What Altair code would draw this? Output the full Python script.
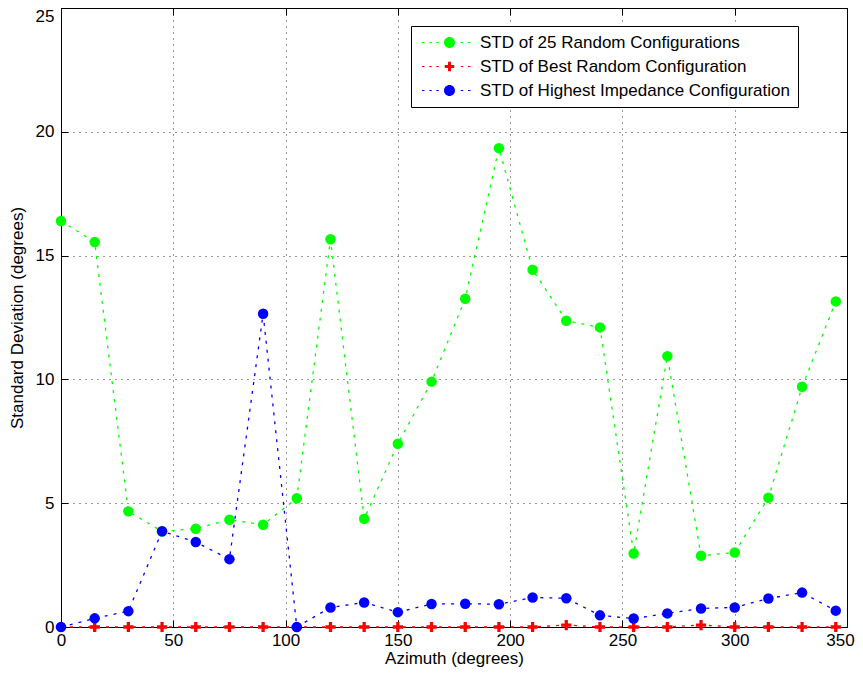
import altair as alt
import pandas as pd

# ---------------- data ----------------
azimuth = [0, 15, 30, 45, 60, 75, 90, 105, 120, 135, 150, 165,
           180, 195, 210, 225, 240, 255, 270, 285, 300, 315, 330, 345]
std_random = [16.4, 15.55, 4.67, 3.86, 3.97, 4.33, 4.13, 5.2, 15.66, 4.37, 7.4, 9.91,
              13.26, 19.34, 14.43, 12.37, 12.1, 2.97, 10.94, 2.88, 3.01, 5.22, 9.7, 13.15]
std_best = [0, 0, 0, 0, 0, 0, 0, 0, 0, 0, 0, 0,
            0, 0, 0, 0.08, 0, 0, 0, 0.08, 0, 0, 0, 0]
std_highest = [0.0, 0.35, 0.64, 3.87, 3.43, 2.74, 12.65, 0.0, 0.79, 0.99, 0.6, 0.93,
               0.94, 0.92, 1.19, 1.16, 0.47, 0.34, 0.55, 0.75, 0.79, 1.15, 1.39, 0.66]

series_names = ["STD of 25 Random Configurations",
                "STD of Best Random Configuration",
                "STD of Highest Impedance Configuration"]
series_colors = ["#00ff00", "#ff0000", "#0000ff"]
x_ticks = [0, 50, 100, 150, 200, 250, 300, 350]
y_ticks = [0, 5, 10, 15, 20, 25]

# ---------------- tables ----------------
rows = []
for name, vals in zip(series_names, [std_random, std_best, std_highest]):
    for a, v in zip(azimuth, vals):
        rows.append({"azimuth": a, "value": v, "series": name})
df = pd.DataFrame(rows)

legend_df = pd.DataFrame({"series": series_names,
                          "azimuth": [0, 0, 0],
                          "value": [-10, -10, -10]})

# custom symbols (unit square -1..1)
cross_path = "M-1,-0.32H-0.32V-1H0.32V-0.32H1V0.32H0.32V1H-0.32V0.32H-1Z"


def dashes():
    out = ""
    for c in [-5.26, -3.8, -2.4, 2.5, 3.95]:
        out += "M{:.2f},-0.1h0.5v0.2h-0.5Z".format(c - 0.25)
    return out


leg_circle = dashes() + "M1.1,0A1.1,1.1,0,1,1,-1.1,0A1.1,1.1,0,1,1,1.1,0Z"
leg_cross = dashes() + "M-0.95,-0.3H-0.3V-0.95H0.3V-0.3H0.95V0.3H0.3V0.95H-0.3V0.3H-0.95Z"

xscale = alt.Scale(domain=[0, 350], nice=False, zero=False)
yscale = alt.Scale(domain=[0, 25], nice=False, zero=False)

FONT = "Liberation Sans"

main_x_axis = alt.Axis(values=x_ticks, title="Azimuth (degrees)", grid=True,
                       gridDash=[1, 5], gridColor="#000000", gridOpacity=0.8,
                       ticks=False, labelFlush=False, labelBound=False,
                       labelOverlap=False, labelPadding=5, titlePadding=2,
                       labelOffset={"condition": {"test": "datum.value === 350",
                                                  "value": -7},
                                    "value": 0},
                       domainColor="#000000")
main_y_axis = alt.Axis(values=y_ticks, title="Standard Deviation (degrees)", grid=True,
                       gridDash=[1, 5], gridColor="#000000", gridOpacity=0.8,
                       ticks=False, labelFlush=False, labelBound=False,
                       labelOverlap=False, labelPadding=7, titlePadding=9,
                       labelBaseline={"condition": {"test": "datum.value === 25",
                                                    "value": "top"},
                                      "value": "middle"},
                       domainColor="#000000")


def tick_axis(orient, values):
    return alt.Axis(orient=orient, values=values, offset=-7, tickSize=7,
                    tickColor="#000000", tickWidth=1, domain=False, labels=False,
                    grid=False, title=None)


def enc(xaxis=None, yaxis=None):
    return dict(
        x=alt.X("azimuth:Q", scale=xscale, axis=xaxis),
        y=alt.Y("value:Q", scale=yscale, axis=yaxis),
    )


layers = []
shapes = ["circle", cross_path, "circle"]
sizes = [110, 105, 110]
axis_sets = [
    (main_x_axis, main_y_axis),
    (tick_axis("bottom", x_ticks), tick_axis("left", y_ticks)),
    (tick_axis("top", x_ticks), tick_axis("right", y_ticks)),
]
for i, name in enumerate(series_names):
    base = alt.Chart(df).transform_filter(alt.datum.series == name)
    xa, ya = axis_sets[i]
    line = base.mark_line(color=series_colors[i], strokeDash=[3, 6],
                          strokeWidth=1.3).encode(**enc(xa, ya))
    pts = base.mark_point(filled=True, opacity=1, color=series_colors[i],
                          shape=shapes[i], size=sizes[i]).encode(**enc())
    layers += [line, pts]

legend_props = dict(title=None, orient="none", legendX=350, legendY=18,
                    strokeColor="#000000", fillColor="#ffffff", padding=8,
                    rowPadding=6, symbolSize=100, symbolStrokeWidth=0,
                    symbolOffset=22, labelOffset=22, labelFontSize=17,
                    labelFont=FONT, labelColor="#000000", labelLimit=600)
legend_layer = alt.Chart(legend_df).mark_point(filled=True, opacity=1, clip=True,
                                               size=100).encode(
    x=alt.X("azimuth:Q", scale=xscale, axis=None),
    y=alt.Y("value:Q", scale=yscale, axis=None),
    color=alt.Color("series:N", scale=alt.Scale(domain=series_names, range=series_colors),
                    legend=alt.Legend(**legend_props)),
    shape=alt.Shape("series:N", scale=alt.Scale(domain=series_names,
                                                range=[leg_circle, leg_cross, leg_circle]),
                    legend=alt.Legend(**legend_props)),
)
layers.append(legend_layer)

chart = alt.layer(*layers).resolve_axis(x="independent", y="independent").properties(
    width=786, height=619,
    autosize=alt.AutoSizeParams(type="none"),
    padding={"left": 53, "top": 0, "right": 8, "bottom": 40},
).configure_view(stroke="#000000", strokeWidth=1).configure_axis(
    labelFont=FONT, labelFontSize=17, labelColor="#000000",
    titleFont=FONT, titleFontSize=17, titleFontWeight="normal", titleColor="#000000",
)

chart.save("out.html", embed_options={"renderer": "svg", "actions": False})
